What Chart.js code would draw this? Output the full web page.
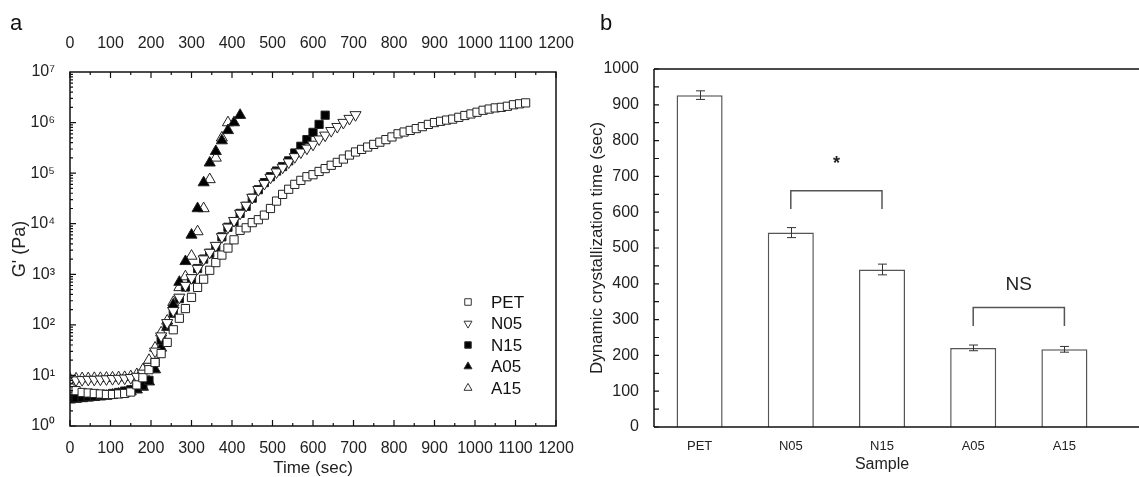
<!DOCTYPE html>
<html><head><meta charset="utf-8">
<script src="https://cdn.jsdelivr.net/npm/chart.js@4.4.1/dist/chart.umd.min.js"></script>
<style>
html,body{margin:0;padding:0;background:#fff;width:1139px;height:477px;overflow:hidden;}
#wrapA{position:absolute;left:0;top:0;width:580px;height:477px;}
#wrapB{position:absolute;left:580px;top:0;width:559px;height:477px;}
.plabel{position:absolute;font-family:'Liberation Sans',Arial,sans-serif;font-size:22px;line-height:22px;color:#111;z-index:5;}
</style></head><body>
<div id="wrapA"><canvas id="cA" width="580" height="477"></canvas></div>
<div id="wrapB"><canvas id="cB" width="559" height="477"></canvas></div>
<div class="plabel" style="left:10px;top:12px">a</div>
<div class="plabel" style="left:600px;top:12px">b</div>
<script>
// ---------- Panel a data ----------
const seriesNames = ['PET', 'N05', 'N15', 'A05', 'A15'];
const time = [0,15,30,45,60,75,90,105,120,135,150,165,180,195,210,225,240,255,270,285,300,315,330,345,360,375,390,405,420,435,450,465,480,495,510,525,540,555,570,585,600,615,630,645,660,675,690,705,720,735,750,765,780,795,810,825,840,855,870,885,900,915,930,945,960,975,990,1005,1020,1035,1050,1065,1080,1095,1110,1125];
const gPET = [5.6,5.0,4.6,4.5,4.4,4.3,4.2,4.2,4.3,4.4,4.7,6.5,9,13,18,27,45,80,135,210,350,550,800,1200,1700,2400,3300,4800,7400,8300,10500,12000,14800,20000,28000,38000,48000,60000,72000,85000,93000,108000,123000,143000,163000,190000,228000,262000,295000,328000,370000,410000,460000,520000,600000,650000,700000,760000,830000,920000,1000000,1060000,1120000,1170000,1270000,1380000,1480000,1600000,1750000,1850000,1950000,2000000,2100000,2250000,2350000,2450000];
const gN05 = [8.0,8.1,8.2,8.3,8.3,8.4,8.5,8.6,8.7,8.8,9.0,9.5,11,15,30,60,110,190,350,600,850,1300,2000,2700,3700,5500,8500,11500,16000,23000,33000,47000,62000,82000,105000,130000,165000,210000,260000,310000,370000,470000,560000,690000,830000,1000000,1200000,1420000];
const gN15 = [3.5,3.6,3.7,3.8,3.9,4.0,4.2,4.4,4.6,4.9,5.2,5.6,6.3,8,18,50,100,170,330,560,800,1300,2000,2600,3500,5500,8500,11000,16000,22000,32000,47000,65000,85000,110000,135000,175000,250000,340000,460000,640000,920000,1400000];
const gA05 = [3.3,3.4,3.5,3.6,3.7,3.8,3.9,4.1,4.3,4.5,4.8,5.2,5.9,7.5,13,35,90,250,700,1800,6000,20000,65000,160000,270000,440000,700000,1000000,1400000];
const gA15 = [8.5,8.6,8.7,8.7,8.8,8.8,8.9,9.0,9.1,9.2,9.5,10.5,13,20,35,70,120,280,550,900,2300,7000,20000,75000,200000,500000,1000000];
const yTickValues = [1,10,100,1000,10000,100000,1000000,10000000];
const yTickLabels = ['10\u2070','10\u00B9','10\u00B2','10\u00B3','10\u2074','10\u2075','10\u2076','10\u2077'];

// ---------- Panel b data ----------
const categories = ['PET', 'N05', 'N15', 'A05', 'A15'];
const crystTime = [927, 543, 440, 221, 217];
const crystErr = [12, 14, 15, 8, 8];
const sigBrackets = [
  {from: 1, to: 2, top: 660, leg: 609, text: '*', textAt: 748},
  {from: 3, to: 4, top: 334, leg: 282, text: 'NS', textAt: 397}
];

const FONT = "'Liberation Sans', Arial, sans-serif";
Chart.defaults.font.family = FONT;
Chart.defaults.color = '#222';

function drawMarker(ctx, style, rot, r, x, y, fill) {
  ctx.save();
  ctx.translate(x, y);
  ctx.rotate(rot * Math.PI / 180);
  ctx.beginPath();
  if (style === 'rect') {
    const s = Math.SQRT1_2 * r;
    ctx.rect(-s, -s, 2 * s, 2 * s);
  } else {
    for (let k = 0; k < 3; k++) {
      const a = k * 2 * Math.PI / 3;
      const px = Math.sin(a) * r, py = -Math.cos(a) * r;
      if (k === 0) ctx.moveTo(px, py); else ctx.lineTo(px, py);
    }
    ctx.closePath();
  }
  ctx.fillStyle = fill;
  ctx.fill();
  ctx.lineWidth = 1;
  ctx.strokeStyle = '#333';
  ctx.stroke();
  ctx.restore();
}

const pts = (g) => g.map((v, i) => ({x: time[i], y: v}));
const styleA = [
  {pointStyle: 'rect', rotation: 0, fill: '#fff', r: 5.8},
  {pointStyle: 'triangle', rotation: 180, fill: '#fff', r: 6.4},
  {pointStyle: 'rect', rotation: 0, fill: '#000', r: 5.8},
  {pointStyle: 'triangle', rotation: 0, fill: '#000', r: 6.4},
  {pointStyle: 'triangle', rotation: 0, fill: '#fff', r: 6.4}
];
const seriesG = [gPET, gN05, gN15, gA05, gA15];

const frameA = {
  id: 'frameA',
  afterDraw(chart) {
    const {ctx, chartArea: {left, right, top, bottom}, scales} = chart;
    ctx.save();
    ctx.strokeStyle = '#111';
    ctx.lineWidth = 1.5;
    ctx.strokeRect(left, top, right - left, bottom - top);
    ctx.lineWidth = 1.2;
    ctx.beginPath();
    const xs = scales.x;
    for (let v = xs.min; v <= xs.max; v += 50) {
      const px = xs.getPixelForValue(v);
      const len = (v % 100 === 0) ? 6 : 3;
      ctx.moveTo(px, bottom); ctx.lineTo(px, bottom - len);
      ctx.moveTo(px, top); ctx.lineTo(px, top + len);
    }
    const ys = scales.y;
    for (let e = 0; e < 7; e++) {
      for (let m = 1; m <= 9; m++) {
        const py = ys.getPixelForValue(m * Math.pow(10, e));
        const len = m === 1 ? 6 : 3;
        ctx.moveTo(left, py); ctx.lineTo(left + len, py);
      }
    }
    ctx.stroke();
    // legend
    ctx.font = '17px ' + FONT;
    ctx.textBaseline = 'middle';
    ctx.textAlign = 'left';
    chart.data.datasets.forEach((ds, i) => {
      const y = 302 + i * 21.5;
      const st = styleA[i];
      drawMarker(ctx, st.pointStyle, st.rotation, 4.6, 468, y, st.fill);
      ctx.fillStyle = '#111';
      ctx.fillText(ds.label, 491, y + 1);
    });
    ctx.restore();
  }
};

const xTicks = (pad) => ({stepSize: 100, padding: pad, font: {size: 16}, maxRotation: 0, minRotation: 0, autoSkip: false, callback: (v) => String(v)});
const noPadH = (s, h) => { s.height = h; s.paddingLeft = 0; s.paddingRight = 0; };
const noPadV = (s, w) => { s.width = w; s.paddingTop = 0; s.paddingBottom = 0; };

new Chart(document.getElementById('cA'), {
  type: 'scatter',
  data: {
    datasets: seriesNames.map((n, i) => ({
      label: n,
      data: pts(seriesG[i]),
      pointStyle: styleA[i].pointStyle,
      rotation: styleA[i].rotation,
      pointRadius: styleA[i].r,
      pointBackgroundColor: styleA[i].fill,
      pointBorderColor: '#222',
      pointBorderWidth: 1,
      showLine: false
    }))
  },
  options: {
    responsive: false, animation: false, events: [],
    layout: {padding: {left: 0, right: 24, top: 0, bottom: 0}},
    plugins: {legend: {display: false}, tooltip: {enabled: false}},
    scales: {
      x: {
        type: 'linear', position: 'bottom', min: 0, max: 1200,
        grid: {display: false}, border: {display: false},
        ticks: xTicks(5),
        title: {display: true, text: 'Time (sec)', font: {size: 17, lineHeight: 1}, padding: {top: 0, bottom: 0}},
        afterFit(s) { noPadH(s, 51); }
      },
      x2: {
        type: 'linear', position: 'top', min: 0, max: 1200,
        grid: {display: false}, border: {display: false},
        ticks: xTicks(11),
        afterFit(s) { noPadH(s, 72); }
      },
      y: {
        type: 'logarithmic', min: 1, max: 10000000,
        grid: {display: false}, border: {display: false},
        afterBuildTicks(s) { s.ticks = yTickValues.map(v => ({value: v})); },
        ticks: {padding: 7, font: {size: 16}, callback: (v, i) => yTickLabels[i]},
        title: {display: true, text: "G' (Pa)", font: {size: 18, lineHeight: 1.2}, padding: {top: 9, bottom: 0}},
        afterFit(s) { noPadV(s, 70); }
      }
    }
  },
  plugins: [frameA]
});

// ---------- Panel b ----------
const frameB = {
  id: 'frameB',
  afterDraw(chart) {
    const {ctx, chartArea: {left, right, top, bottom}, scales} = chart;
    const W = chart.width;
    ctx.save();
    ctx.strokeStyle = '#111';
    ctx.lineWidth = 1.5;
    ctx.beginPath();
    ctx.moveTo(left, top); ctx.lineTo(W, top);
    ctx.moveTo(left, top); ctx.lineTo(left, bottom);
    ctx.moveTo(left, bottom); ctx.lineTo(W, bottom);
    ctx.stroke();
    ctx.lineWidth = 1.2;
    ctx.beginPath();
    const ys = scales.y;
    for (let v = ys.min; v <= ys.max; v += 50) {
      const py = ys.getPixelForValue(v);
      ctx.moveTo(left, py); ctx.lineTo(left + 5, py);
    }
    ctx.stroke();
    // error bars
    const xs = scales.x;
    ctx.strokeStyle = '#333';
    ctx.lineWidth = 1;
    ctx.beginPath();
    crystTime.forEach((v, i) => {
      const x = Math.round(xs.getPixelForValue(i)) + 0.5;
      const yt = ys.getPixelForValue(v + crystErr[i]);
      const yb = ys.getPixelForValue(v - crystErr[i]);
      ctx.moveTo(x, yt); ctx.lineTo(x, yb);
      ctx.moveTo(x - 4.5, yt); ctx.lineTo(x + 4.5, yt);
      ctx.moveTo(x - 4.5, yb); ctx.lineTo(x + 4.5, yb);
    });
    ctx.stroke();
    // brackets
    ctx.strokeStyle = '#555';
    ctx.lineWidth = 1.5;
    ctx.fillStyle = '#222';
    ctx.textAlign = 'center';
    sigBrackets.forEach(b => {
      const x1 = xs.getPixelForValue(b.from), x2 = xs.getPixelForValue(b.to);
      const yt = ys.getPixelForValue(b.top), yl = ys.getPixelForValue(b.leg);
      ctx.beginPath();
      ctx.moveTo(x1, yl); ctx.lineTo(x1, yt); ctx.lineTo(x2, yt); ctx.lineTo(x2, yl);
      ctx.stroke();
      const yT = ys.getPixelForValue(b.textAt);
      if (b.text === '*') {
        ctx.font = 'bold 18px ' + FONT;
        ctx.textBaseline = 'alphabetic';
        ctx.fillText(b.text, (x1 + x2) / 2, yT + 10);
      } else {
        ctx.font = '19px ' + FONT;
        ctx.textBaseline = 'middle';
        ctx.fillText(b.text, (x1 + x2) / 2, yT);
      }
    });
    ctx.restore();
  }
};

new Chart(document.getElementById('cB'), {
  type: 'bar',
  data: {
    labels: categories,
    datasets: [{
      data: crystTime,
      backgroundColor: '#fff',
      borderColor: '#555',
      borderWidth: 1.5,
      categoryPercentage: 1,
      barPercentage: 0.505
    }]
  },
  options: {
    responsive: false, animation: false, events: [],
    layout: {padding: {left: 0, right: 29, top: 69, bottom: 0}},
    plugins: {legend: {display: false}, tooltip: {enabled: false}},
    scales: {
      x: {
        grid: {display: false}, border: {display: false},
        ticks: {padding: 4, font: {size: 13}, maxRotation: 0},
        title: {display: true, text: 'Sample', font: {size: 16, lineHeight: 1}, padding: {top: 0, bottom: 4}},
        afterFit(s) { noPadH(s, 50); }
      },
      y: {
        min: 0, max: 1000,
        grid: {display: false}, border: {display: false},
        ticks: {stepSize: 100, padding: 7, font: {size: 16}, callback: (v) => String(v)},
        title: {display: true, text: 'Dynamic crystallization time (sec)', font: {size: 17, lineHeight: 1.2}, padding: {top: 7, bottom: 0}},
        afterFit(s) { noPadV(s, 74); }
      }
    }
  },
  plugins: [frameB]
});
</script>
</body></html>
